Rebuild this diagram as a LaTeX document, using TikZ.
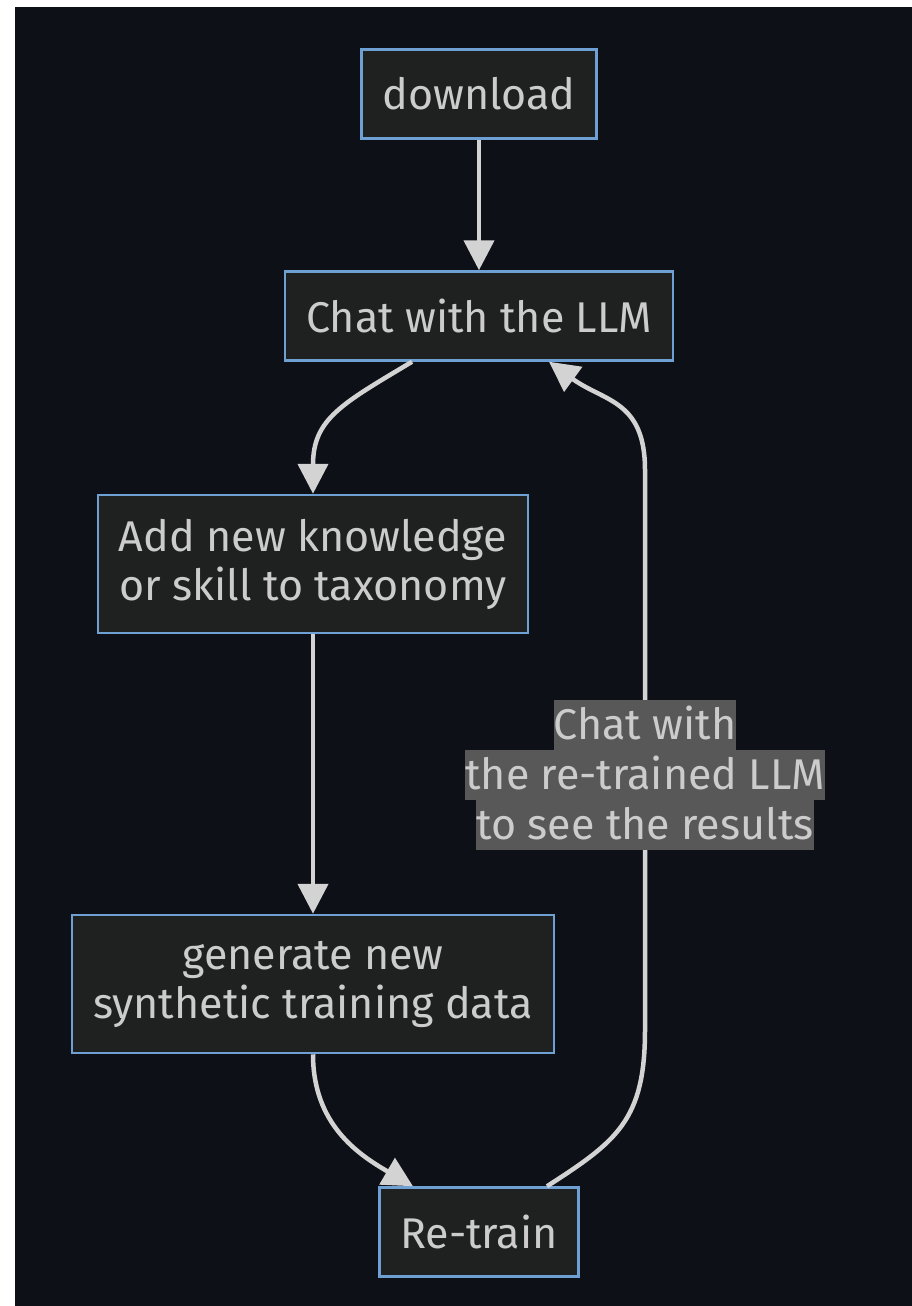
\documentclass[tikz,border=0pt]{standalone}
\usepackage{fontspec}
\setmainfont{Fira Sans}
\usepackage{tikz}
\usetikzlibrary{arrows.meta, positioning, calc}
\definecolor{pagebg}{HTML}{0D1117}
\definecolor{boxfill}{HTML}{1F2020}
\definecolor{boxline}{HTML}{6FA0D4}
\definecolor{edgegrey}{HTML}{D3D3D3}
\definecolor{textgrey}{HTML}{CCCCCC}
\definecolor{labelbg}{HTML}{585858}
\newcommand{\lblline}[1]{\colorbox{labelbg}{\rule[-11pt]{0pt}{50pt}#1}}

\begin{document}
\begin{tikzpicture}[x=1pt, y=1pt, >={Triangle[length=30pt,width=30pt]}]
        \tikzstyle{flowbox}=[draw=boxline, line width=2.5pt, fill=boxfill, text=textgrey,
            font=\fontsize{43}{49}\selectfont, align=center, inner xsep=21pt, inner ysep=0pt,
            minimum height=89pt]
        \tikzstyle{flowedge}=[draw=edgegrey, line width=4.5pt]
        \tikzstyle{edgelabel}=[text=textgrey, font=\fontsize{43}{50}\selectfont,
            align=center, inner sep=0pt]
        \setlength{\fboxsep}{0pt}

        % Background
        \useasboundingbox (0,0) rectangle (912,-1306);
        \fill[white] (0,0) rectangle (912,-1306);
        \fill[pagebg] (15,-7) rectangle (912,-1306);

        % Nodes
        \node (dl)[flowbox] at (479,-94) {download};
        \node (chat)[flowbox] at (479,-316) {Chat with the LLM};
        \node (add)[flowbox, minimum height=138pt] at (313,-564) {Add new knowledge\\or skill to taxonomy};
        \node (gen)[flowbox, minimum height=138pt] at (313,-984) {generate new\\synthetic training data};
        \node (rt)[flowbox] at (479,-1232) {Re-train};

        % Edges
        \draw[flowedge, ->] (dl) -- (chat);
        \draw[flowedge, ->] ([xshift=-67pt]chat.south) .. controls +(-70,-42) and +(0,75) .. (add.north);
        \draw[flowedge, ->] (add) -- (gen);
        \draw[flowedge, ->] (gen.south) .. controls +(0,-70) and +(-55,32) .. ([xshift=-66pt]rt.north);

        % Back to the chat
        \coordinate (lowbend) at (645,-1030);
        \coordinate (highbend) at (645,-470);
        \draw[flowedge, ->] ([xshift=68pt]rt.north) .. controls +(70,45) and +(0,-90) .. (lowbend)
            -- node[pos=0.455, edgelabel] (lbl) {\lblline{Chat with}\\\lblline{the re-trained LLM}\\\lblline{to see the results}} (highbend)
            .. controls +(0,70) and +(55,-40) .. ([xshift=70pt]chat.south);
\end{tikzpicture}
\end{document}
